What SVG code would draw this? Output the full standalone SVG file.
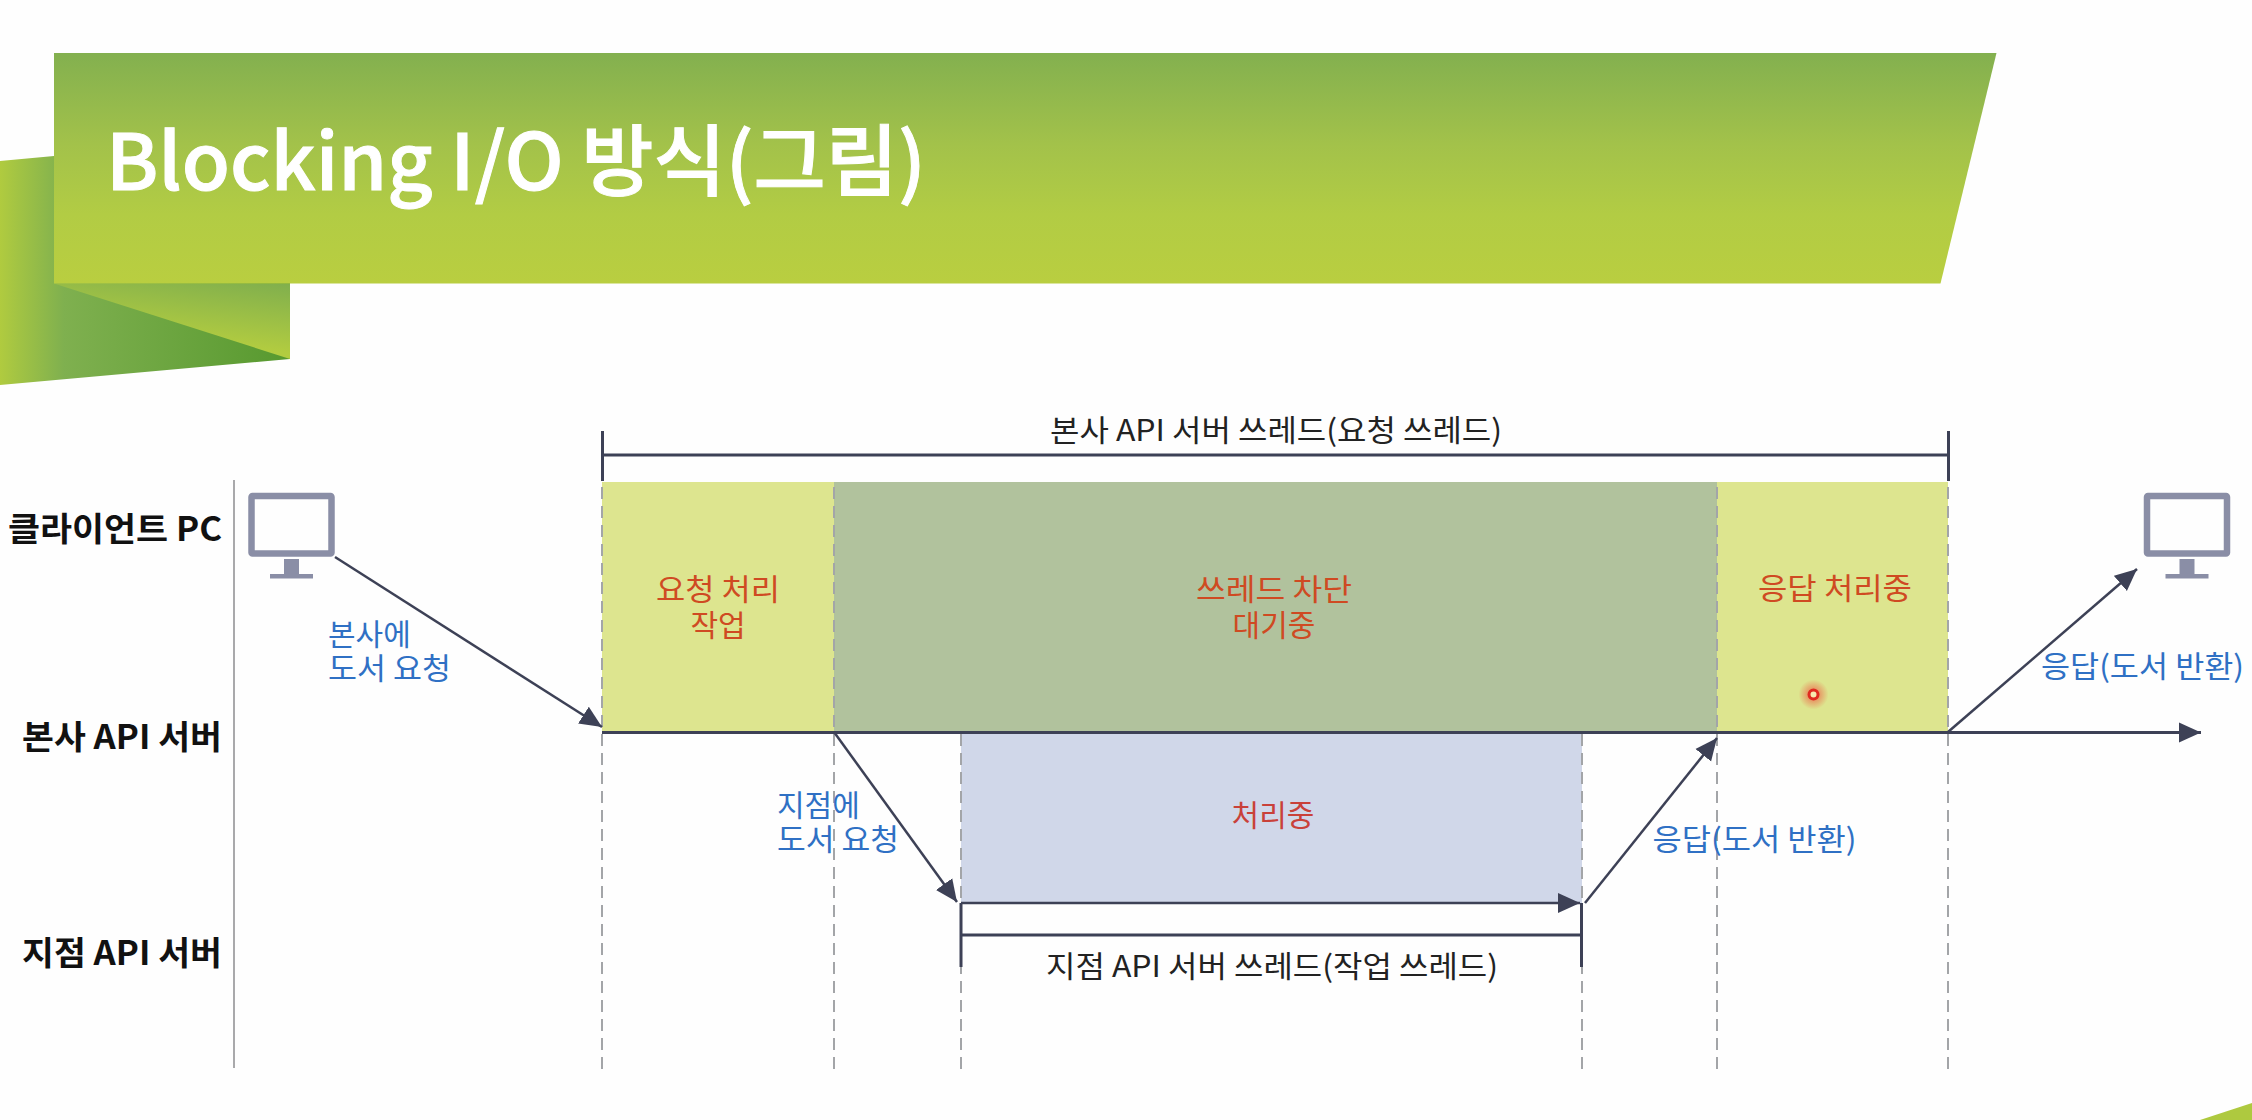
<svg xmlns="http://www.w3.org/2000/svg" width="2252" height="1120" viewBox="0 0 2252 1120">
<style>
text{font-family:"Noto Sans CJK KR","Noto Sans",sans-serif;font-size:30px}
.t{text-anchor:middle}
.lbl{font-weight:700;font-size:33px;fill:#111}
.blk{fill:#222}
.blue{fill:#2f70c4}
.red{fill:#cf4a22}
.red2{fill:#c9413a}
.dash{stroke:#a3a5a8;stroke-width:2;stroke-dasharray:12 7;fill:none}
.ln{stroke:#3d4156;fill:none}
.mon{fill:none;stroke:#8a8ea6;stroke-width:6.5}
.monf{fill:#8a8ea6}
</style>
<defs>
<linearGradient id="gB" x1="0" y1="0" x2="0" y2="1"><stop offset="0" stop-color="#83b04f"/><stop offset=".4" stop-color="#a3c24a"/><stop offset=".7" stop-color="#b2cc44"/><stop offset="1" stop-color="#b9ce40"/></linearGradient>
<linearGradient id="gF" x1="0" y1="0" x2="1" y2="0"><stop offset="0" stop-color="#b0cb3f"/><stop offset=".22" stop-color="#7fb04f"/><stop offset="1" stop-color="#57992f"/></linearGradient>
<linearGradient id="gT" x1="1" y1="0" x2=".6" y2="1"><stop offset="0" stop-color="#80af4d"/><stop offset=".8" stop-color="#b2cc40"/></linearGradient>
<radialGradient id="glow"><stop offset=".3" stop-color="#f04a3a" stop-opacity=".55"/><stop offset="1" stop-color="#f04a3a" stop-opacity="0"/></radialGradient>
<marker id="ah" markerUnits="userSpaceOnUse" markerWidth="24" markerHeight="22" refX="22" refY="11" orient="auto"><path d="M0 1L22 11L0 21z" fill="#3d4156"/></marker>
</defs>
<rect width="2252" height="1120" fill="#fefefe"/>
<g id="banner">
<polygon points="0,161 54,156 54,283 290,283 290,359 0,385" fill="url(#gF)"/>
<polygon points="54,283.5 290,283.5 290,359" fill="url(#gT)"/>
<polygon points="54,53 1996.5,53 1940.5,283.5 54,283.5" fill="url(#gB)"/>
<polygon points="2200,1120 2252,1103 2252,1120" fill="#aec93f"/>
<text x="106" y="190" textLength="820" lengthAdjust="spacingAndGlyphs" style="font-size:78px;font-weight:500" fill="#fff" stroke="#fff" stroke-width="1">Blocking I/O 방식(그림)</text>
</g>
<g id="regions">
<rect id="phase-request" x="602" y="482" width="232" height="250" fill="#dde58f"/>
<rect id="phase-blocked" x="834" y="482" width="883" height="250" fill="#b1c29d"/>
<rect id="phase-response" x="1717" y="482" width="231" height="250" fill="#dde58f"/>
<rect id="phase-branch" x="961" y="733" width="621" height="170" fill="#d0d7e9"/>
</g>
<g id="connectors">
<path class="dash" d="M602 1069V482M834 1069V482M961 1069V733M1582 1069V733M1717 1069V482M1948 1069V482"/>
<path d="M234 480V1068" stroke="#a9a9ab" stroke-width="2" fill="none"/>
<path class="ln" stroke-width="3" d="M602.500 431V481M1948.500 431V481M602 455H1948"/>
<path class="ln" stroke-width="3" d="M961 903V967M1581.500 903V967M961 935H1582"/>
<path class="ln" stroke-width="3" d="M602 732.500H2201" marker-end="url(#ah)"/>
<path class="ln" stroke-width="2.500" d="M961 903H1580" marker-end="url(#ah)"/>
<path class="ln" stroke-width="2.500" d="M335 557L602 727" marker-end="url(#ah)"/>
<path class="ln" stroke-width="2.500" d="M834 732L957 902" marker-end="url(#ah)"/>
<path class="ln" stroke-width="2.500" d="M1585 903L1717 738" marker-end="url(#ah)"/>
<path class="ln" stroke-width="2.500" d="M1948 732L2137 569" marker-end="url(#ah)"/>
</g>
<g id="client-pc-left">
<rect class="mon" x="251.500" y="496" width="80" height="57.500" rx="1"/>
<rect class="monf" x="284" y="559" width="15" height="16"/>
<rect class="monf" x="270" y="574" width="43" height="4.500"/>
</g>
<g id="client-pc-right">
<rect class="mon" x="2147" y="496" width="80" height="57.500" rx="1"/>
<rect class="monf" x="2179.500" y="559" width="15" height="16"/>
<rect class="monf" x="2165.500" y="574" width="43" height="4.500"/>
</g>
<g id="lane-labels">
<text class="lbl" x="8" y="541" textLength="214" lengthAdjust="spacingAndGlyphs">클라이언트 PC</text>
<text class="lbl" x="22" y="749" textLength="200" lengthAdjust="spacingAndGlyphs">본사 API 서버</text>
<text class="lbl" x="22" y="965" textLength="200" lengthAdjust="spacingAndGlyphs">지점 API 서버</text>
</g>
<g id="phase-labels">
<text class="blk" x="1050" y="441" textLength="452" lengthAdjust="spacingAndGlyphs">본사 API 서버 쓰레드(요청 쓰레드)</text>
<text class="red" x="656" y="600" textLength="124" lengthAdjust="spacingAndGlyphs">요청 처리</text>
<text class="red t" x="718" y="636">작업</text>
<text class="red" x="1196" y="600" textLength="156" lengthAdjust="spacingAndGlyphs">쓰레드 차단</text>
<text class="red t" x="1274" y="636">대기중</text>
<text class="red" x="1758" y="599" textLength="154" lengthAdjust="spacingAndGlyphs">응답 처리중</text>
<text class="red2 t" x="1273" y="826">처리중</text>
<text class="blk" x="1046" y="977" textLength="452" lengthAdjust="spacingAndGlyphs">지점 API 서버 쓰레드(작업 쓰레드)</text>
</g>
<g id="arrow-labels">
<text class="blue" x="328" y="645">본사에</text>
<text class="blue" x="328" y="679" textLength="123" lengthAdjust="spacingAndGlyphs">도서 요청</text>
<text class="blue" x="777" y="816">지점에</text>
<text class="blue" x="777" y="850" textLength="122" lengthAdjust="spacingAndGlyphs">도서 요청</text>
<text class="blue" x="1652.500" y="850" textLength="204" lengthAdjust="spacingAndGlyphs">응답(도서 반환)</text>
<text class="blue" x="2041" y="677" textLength="203" lengthAdjust="spacingAndGlyphs">응답(도서 반환)</text>
</g>
<g id="pointer">
<circle cx="1813.500" cy="694.500" r="15" fill="url(#glow)"/>
<circle cx="1813.500" cy="694.500" r="4.500" fill="#f7e9b0" stroke="#e02a20" stroke-width="3"/>
</g>
</svg>
